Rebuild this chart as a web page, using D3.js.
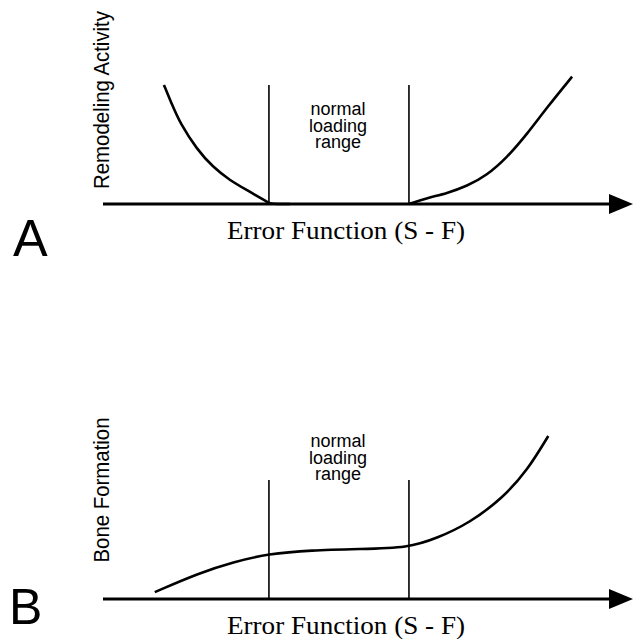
<!DOCTYPE html>
<html>
<head>
<meta charset="utf-8">
<script src="https://cdn.jsdelivr.net/npm/d3@7"></script>
<style>
  body { margin: 0; background: #fff; }
  svg { display: block; }
</style>
</head>
<body>
<svg width="640" height="639"></svg>
<script>
// error function units: the normal loading range is -1..1
var errorDomain = [-3.37, 4.2];
var normalRange = [-1, 1];

// panel A: remodeling activity
var remodelLeftX = [-2.5, -2.38, -2.27, -2.03, -1.8, -1.56, -1.31, -1.0, -0.98, -0.7];
var remodelLeftY = [1.0, 0.83, 0.68, 0.46, 0.31, 0.20, 0.115, 0.01, 0.0, 0.0];
var remodelRightX = [1.0, 1.26, 1.54, 1.83, 2.11, 2.4, 2.69, 2.97, 3.33];
var remodelRightY = [0.0, 0.05, 0.09, 0.15, 0.24, 0.39, 0.59, 0.81, 1.07];

// panel B: bone formation
var formationX = [-2.63, -1.99, -1.51, -1.01, -0.4, 0.3, 0.99, 1.4, 1.87, 2.34, 2.69, 2.99];
var formationY = [0.058, 0.22, 0.31, 0.38, 0.41, 0.42, 0.43, 0.51, 0.64, 0.85, 1.08, 1.37];

var xTitle = "Error Function (S - F)";
var rangeLabel = ["normal", "loading", "range"];

var svg = d3.select("svg");

var x = d3.scaleLinear().domain(errorDomain).range([103, 633]);

function zip(xs, ys) {
    return xs.map(function(v, i) { return [v, ys[i]]; });
}

function drawPanel(p) {
    var g = svg.append("g");
    var y = d3.scaleLinear().domain([0, 1]).range([p.axisY, p.axisY - 119]);

    var line = d3.line()
        .x(function(d) { return x(d[0]); })
        .y(function(d) { return y(d[1]); })
        .curve(d3.curveBasis);

    // vertical boundaries of the normal loading range
    g.selectAll("line.bound")
        .data(normalRange)
        .enter().append("line")
        .attr("class", "bound")
        .attr("x1", function(d) { return x(d); })
        .attr("x2", function(d) { return x(d); })
        .attr("y1", y(1))
        .attr("y2", y(0))
        .attr("stroke", "#000")
        .attr("stroke-width", 1.6);

    // curves
    p.curves.forEach(function(c) {
        g.append("path")
            .datum(c)
            .attr("d", line)
            .attr("fill", "none")
            .attr("stroke", "#000")
            .attr("stroke-width", 2.6);
    });

    // x axis with arrow
    var x0 = x(errorDomain[0]), x1 = x(errorDomain[1]);
    g.append("line")
        .attr("x1", x0)
        .attr("x2", x1 - 20)
        .attr("y1", y(0))
        .attr("y2", y(0))
        .attr("stroke", "#000")
        .attr("stroke-width", 3.2);
    g.append("path")
        .attr("d", "M" + x1 + "," + y(0) + "L" + (x1 - 24) + "," + (y(0) - 10) + "L" + (x1 - 24) + "," + (y(0) + 10) + "Z")
        .attr("fill", "#000");

    // x title
    g.append("text")
        .attr("x", 346)
        .attr("y", p.axisY + 35)
        .attr("text-anchor", "middle")
        .attr("font-family", "'Liberation Serif', 'Times New Roman', serif")
        .attr("font-size", 25)
        .attr("textLength", 238)
        .attr("lengthAdjust", "spacingAndGlyphs")
        .text(xTitle);

    // y title
    g.append("text")
        .attr("transform", "translate(109," + p.yTitleMid + ") rotate(-90)")
        .attr("text-anchor", "middle")
        .attr("font-family", "'Liberation Sans', Arial, sans-serif")
        .attr("font-size", 22)
        .attr("textLength", p.yTitleLen)
        .attr("lengthAdjust", "spacingAndGlyphs")
        .text(p.yTitle);

    // normal loading range label
    g.append("g")
        .selectAll("text")
        .data(rangeLabel)
        .enter().append("text")
        .attr("x", 338)
        .attr("y", function(d, i) { return p.labelY + i * 16.5; })
        .attr("text-anchor", "middle")
        .attr("font-family", "'Liberation Sans', Arial, sans-serif")
        .attr("font-size", 18)
        .text(function(d) { return d; });

    // panel letter
    g.append("text")
        .attr("x", p.letterX)
        .attr("y", p.letterY)
        .attr("font-family", "'Liberation Sans', Arial, sans-serif")
        .attr("font-size", p.letterSize)
        .text(p.letter);
}

drawPanel({
    axisY: 204,
    curves: [zip(remodelLeftX, remodelLeftY), zip(remodelRightX, remodelRightY)],
    yTitle: "Remodeling Activity",
    yTitleMid: 100,
    yTitleLen: 178,
    labelY: 115,
    letter: "A",
    letterX: 13,
    letterY: 256,
    letterSize: 52
});

drawPanel({
    axisY: 599,
    curves: [zip(formationX, formationY)],
    yTitle: "Bone Formation",
    yTitleMid: 490,
    yTitleLen: 145,
    labelY: 447,
    letter: "B",
    letterX: 9,
    letterY: 624,
    letterSize: 50
});
</script>
</body>
</html>
